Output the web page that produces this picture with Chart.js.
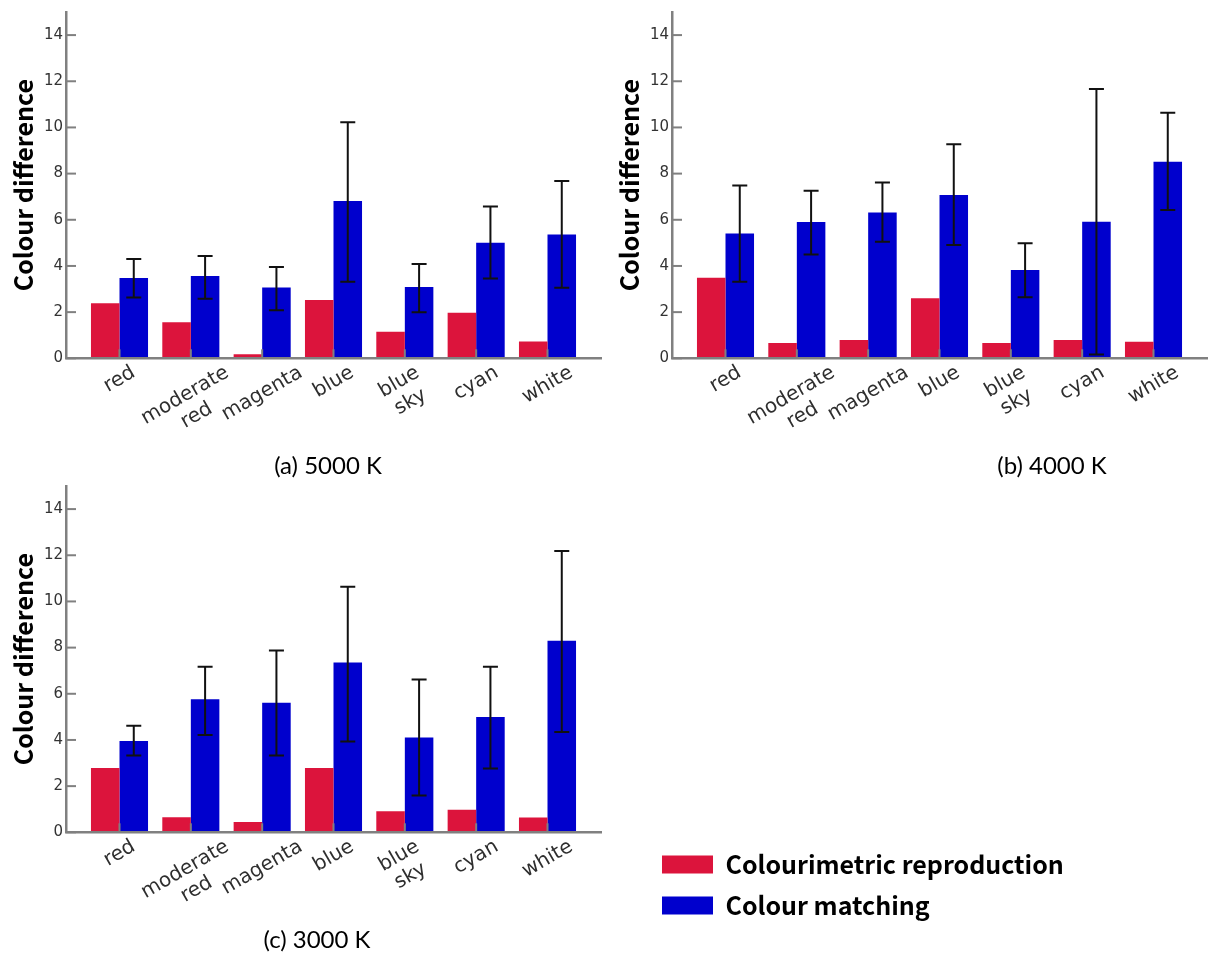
<!DOCTYPE html>
<html>
<head>
<meta charset="utf-8">
<script src="https://cdn.jsdelivr.net/npm/chart.js@4.4.1/dist/chart.umd.min.js"></script>
<style>
  html, body { margin: 0; padding: 0; background: #ffffff; }
  body { width: 1209px; height: 953px; position: relative; overflow: hidden; }
  canvas { position: absolute; }
</style>
</head>
<body>
<canvas id="chartA" width="606" height="480" style="left:0px;top:0px"></canvas>
<canvas id="chartB" width="603" height="480" style="left:606px;top:0px"></canvas>
<canvas id="chartC" width="1209" height="479" style="left:0px;top:474px"></canvas>
<script>
// ---------- data ----------
const categories = [['red'], ['moderate', 'red'], ['magenta'], ['blue'], ['blue', 'sky'], ['cyan'], ['white']];
const seriesNames = ['Colourimetric reproduction', 'Colour matching'];
const seriesColors = ['#DC143C', '#0000CD'];
const yTicks = [0, 2, 4, 6, 8, 10, 12, 14];
const yAxisTitle = 'Colour difference';

// (a) 5000 K
const reproduction5000 = [2.38, 1.56, 0.18, 2.53, 1.15, 1.97, 0.73];
const matching5000     = [3.48, 3.56, 3.07, 6.81, 3.09, 5.00, 5.36];
const matchingLow5000  = [2.63, 2.58, 2.08, 3.32, 2.00, 3.46, 3.06];
const matchingHigh5000 = [4.30, 4.43, 3.95, 10.22, 4.08, 6.57, 7.68];

// (b) 4000 K
const reproduction4000 = [3.49, 0.66, 0.79, 2.60, 0.66, 0.79, 0.72];
const matching4000     = [5.41, 5.90, 6.32, 7.07, 3.82, 5.92, 8.51];
const matchingLow4000  = [3.32, 4.50, 5.05, 4.91, 2.64, 0.17, 6.42];
const matchingHigh4000 = [7.48, 7.26, 7.61, 9.27, 4.98, 11.66, 10.64];

// (c) 3000 K
const reproduction3000 = [2.79, 0.65, 0.45, 2.79, 0.91, 0.98, 0.64];
const matching3000     = [3.95, 5.76, 5.61, 7.35, 4.11, 4.99, 8.30];
const matchingLow3000  = [3.33, 4.21, 3.33, 3.93, 1.59, 2.76, 4.34];
const matchingHigh3000 = [4.61, 7.17, 7.87, 10.64, 6.62, 7.17, 12.18];

const captions = ['(a) 5000 K', '(b) 4000 K', '(c) 3000 K'];

// ---------- plugin: error bars, inward ticks, centred rotated labels, box placement ----------
const decorPlugin = {
  id: 'decor',
  beforeLayout(chart, args, opts) {
    const lg = chart.legend;
    if (opts.legendWidth && lg && !lg.__fixedFit) {
      const orig = lg.fit.bind(lg);
      lg.fit = function () { orig(); this.width = opts.legendWidth; };
      lg.__fixedFit = true;
    }
  },
  afterLayout(chart, args, opts) {
    const tb = chart.titleBlock;
    if (opts.caption && tb) {
      const h = tb.height;
      tb.left = opts.caption.x - 150; tb.right = opts.caption.x + 150; tb.width = 300;
      tb.top = opts.caption.y - h / 2; tb.bottom = tb.top + h;
    }
    const lg = chart.legend;
    if (opts.legendPos && lg) {
      lg.left = opts.legendPos.x; lg.right = lg.left + lg.width;
      lg.top = opts.legendPos.y; lg.height = 200; lg.bottom = lg.top + 200;
    }
  },
  afterDatasetsDraw(chart, args, opts) {
    const ctx = chart.ctx, xs = chart.scales.x, ys = chart.scales.y, area = chart.chartArea;
    ctx.save();
    // error bars on the colour-matching bars
    const meta = chart.getDatasetMeta(1);
    ctx.strokeStyle = '#111111';
    ctx.lineWidth = 2;
    meta.data.forEach((bar, i) => {
      const lo = ys.getPixelForValue(opts.low[i]);
      const hi = ys.getPixelForValue(opts.high[i]);
      const cx = bar.x;
      ctx.beginPath();
      ctx.moveTo(cx, lo); ctx.lineTo(cx, hi);
      ctx.moveTo(cx - 7.5, lo); ctx.lineTo(cx + 7.5, lo);
      ctx.moveTo(cx - 7.5, hi); ctx.lineTo(cx + 7.5, hi);
      ctx.stroke();
    });
    // inward tick marks
    ctx.strokeStyle = '#808080';
    ctx.lineWidth = 2;
    ys.ticks.forEach(t => {
      const py = ys.getPixelForValue(t.value);
      ctx.beginPath(); ctx.moveTo(area.left, py); ctx.lineTo(area.left + 10, py); ctx.stroke();
    });
    xs.ticks.forEach(t => {
      const px = xs.getPixelForValue(t.value);
      ctx.beginPath(); ctx.moveTo(px, area.bottom); ctx.lineTo(px, area.bottom - 9); ctx.stroke();
    });
    ctx.restore();
  },
  afterDraw(chart, args, opts) {
    const ctx = chart.ctx, xs = chart.scales.x, area = chart.chartArea;
    const size = 20, lh = size * 1.15, ang = 30 * Math.PI / 180;
    ctx.save();
    ctx.font = size + 'px "DejaVu Sans"';
    ctx.fillStyle = '#2e2e2e';
    ctx.textAlign = 'center';
    ctx.textBaseline = 'middle';
    categories.forEach((lines, i) => {
      const px = xs.getPixelForValue(i);
      const w = Math.max(...lines.map(l => ctx.measureText(l).width));
      const h = lines.length * lh;
      const bboxH = w * Math.sin(ang) + h * Math.cos(ang);
      const cy = area.bottom + 3 + bboxH / 2;
      ctx.save();
      ctx.translate(px, cy);
      ctx.rotate(-ang);
      lines.forEach((l, j) => ctx.fillText(l, 0, (j - (lines.length - 1) / 2) * lh));
      ctx.restore();
    });
    ctx.restore();
  }
};

function makeChart(id, rep, match, low, high, caption, captionPos, withLegend) {
  const canvas = document.getElementById(id);
  const H = canvas.height;
  const chartTop = 12, chartBottom = 358.3, chartLeft = 66, chartRight = 601;
  const titleH = 24 * 1.2;
  const padRight = withLegend ? 0 : canvas.width - chartRight;
  return new Chart(canvas, {
    type: 'bar',
    data: {
      datasets: [
        { label: seriesNames[0], data: rep.map((v, i) => ({ x: i, y: v })),
          backgroundColor: seriesColors[0], borderWidth: 0 },
        { label: seriesNames[1], data: match.map((v, i) => ({ x: i, y: v })),
          backgroundColor: seriesColors[1], borderWidth: 0 }
      ]
    },
    options: {
      responsive: false,
      animation: false,
      events: [],
      categoryPercentage: 0.8,
      barPercentage: 1.0,
      layout: { padding: { left: 0, top: chartTop, right: padRight, bottom: 0 } },
      scales: {
        x: {
          type: 'linear',
          min: -0.75,
          max: 6.75,
          offset: false,
          afterBuildTicks: axis => { axis.ticks = categories.map((c, i) => ({ value: i })); },
          afterFit: axis => { axis.height = H - titleH - chartBottom; },
          ticks: { display: false },
          grid: { display: true, drawOnChartArea: false, drawTicks: false },
          border: { display: true, color: '#808080', width: 2.5, z: 1 }
        },
        y: {
          type: 'linear',
          min: 0,
          max: 15,
          afterBuildTicks: axis => { axis.ticks = yTicks.map(v => ({ value: v })); },
          afterFit: axis => { axis.width = chartLeft; },
          ticks: { font: { family: '"DejaVu Sans"', size: 15 }, color: '#333333', padding: 3 },
          grid: { display: true, drawOnChartArea: false, drawTicks: false },
          border: { display: true, color: '#808080', width: 2.5, z: 1 },
          title: {
            display: true,
            text: yAxisTitle,
            color: '#000000',
            font: { family: '"Noto Sans CJK JP", sans-serif', size: 25, weight: 'bold' },
            padding: { top: 8, bottom: 0 }
          }
        }
      },
      plugins: {
        tooltip: { enabled: false },
        title: {
          display: true,
          text: caption,
          position: 'bottom',
          color: '#000000',
          font: { family: 'Lato, "Liberation Sans", sans-serif', size: 24, weight: 'normal', lineHeight: 1.2 },
          padding: 0
        },
        legend: {
          display: withLegend,
          position: 'right',
          align: 'start',
          labels: {
            boxWidth: 51,
            boxHeight: 18,
            padding: 16,
            color: '#000000',
            font: { family: '"Noto Sans CJK JP", sans-serif', size: 25, weight: 'bold' }
          }
        },
        decor: {
          low: low,
          high: high,
          caption: captionPos,
          legendWidth: withLegend ? canvas.width - chartRight : 0,
          legendPos: withLegend ? { x: 646, y: 362 } : null
        }
      }
    },
    plugins: [decorPlugin]
  });
}

makeChart('chartA', reproduction5000, matching5000, matchingLow5000, matchingHigh5000, captions[0], { x: 328, y: 466 }, false);
makeChart('chartB', reproduction4000, matching4000, matchingLow4000, matchingHigh4000, captions[1], { x: 446, y: 466 }, false);
makeChart('chartC', reproduction3000, matching3000, matchingLow3000, matchingHigh3000, captions[2], { x: 317, y: 466 }, true);
</script>
</body>
</html>
